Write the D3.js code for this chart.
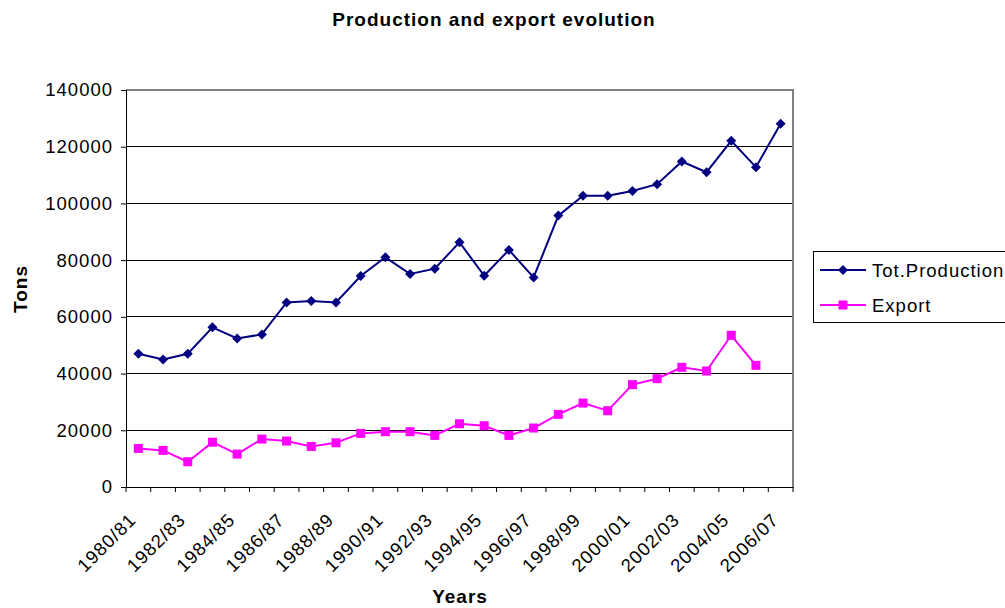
<!DOCTYPE html>
<html>
<head>
<meta charset="utf-8">
<script src="https://cdn.jsdelivr.net/npm/d3@7"></script>
<style>
  body { margin: 0; background: #fff; }
  text { font-family: "Liberation Sans", Arial, sans-serif; fill: #000; letter-spacing: 1px; }
</style>
</head>
<body>
<svg></svg>
<script>
const years = ['1980/81','1981/82','1982/83','1983/84','1984/85','1985/86','1986/87','1987/88','1988/89',
  '1989/90','1990/91','1991/92','1992/93','1993/94','1994/95','1995/96','1996/97','1997/98','1998/99',
  '1999/00','2000/01','2001/02','2002/03','2003/04','2004/05','2005/06','2006/07'];

const production = [47000, 45000, 47000, 56300, 52400, 53800, 65100, 65600, 65100, 74400, 81000, 75100,
  77000, 86300, 74500, 83600, 73900, 95700, 102700, 102700, 104400, 106800, 114800, 111000, 122100,
  112800, 128100];

const exports = [13600, 12900, 8900, 15800, 11600, 16900, 16200, 14300, 15600, 18900, 19500, 19500,
  18200, 22300, 21600, 18200, 20800, 25600, 29600, 26900, 36100, 38200, 42200, 40900, 53500, 42900];

const yTicks = [0, 20000, 40000, 60000, 80000, 100000, 120000, 140000];

const width = 1005;
const height = 608;
const plotLeft = 126, plotRight = 793, plotTop = 90, plotBottom = 487;

const svg = d3.select('svg')
  .attr('width', width)
  .attr('height', height);

const x = d3.scaleBand().domain(years).range([plotLeft, plotRight]).padding(0);
const y = d3.scaleLinear().domain([0, 140000]).range([plotBottom, plotTop]);
const cx = d => x(d) + x.bandwidth() / 2;

// title
svg.append('text')
  .attr('x', 494).attr('y', 26)
  .attr('text-anchor', 'middle')
  .style('font-weight', 'bold').style('font-size', '19px')
  .text('Production and export evolution');

// gridlines
svg.append('g')
  .selectAll('line')
  .data(yTicks.slice(1, -1))
  .enter().append('line')
    .attr('x1', plotLeft).attr('x2', plotRight)
    .attr('y1', d => y(d)).attr('y2', d => y(d))
    .attr('stroke', '#000').attr('stroke-width', 1)
    .attr('shape-rendering', 'crispEdges');

// plot border (top/right gray)
svg.append('path')
  .attr('d', `M${plotLeft},${plotTop}H${plotRight}V${plotBottom}`)
  .attr('fill', 'none').attr('stroke', '#808080').attr('stroke-width', 2)
  .attr('shape-rendering', 'crispEdges');

// y axis
const yAxis = svg.append('g')
  .attr('transform', `translate(${plotLeft},0)`)
  .call(d3.axisLeft(y).tickValues(yTicks).tickSize(5).tickPadding(8).tickFormat(d3.format('d')));
yAxis.select('.domain').attr('stroke', '#000');
yAxis.selectAll('text').style('font-size', '18.5px').attr('font-family', null);

// x axis
const xAxis = svg.append('g')
  .attr('transform', `translate(0,${plotBottom})`)
  .call(d3.axisBottom(x).tickSize(0).tickFormat(''));
xAxis.select('.domain').attr('stroke', '#000');
xAxis.selectAll('.tick').remove();

const bounds = years.map(d => x(d)).concat([plotRight]);
svg.append('g')
  .selectAll('line')
  .data(bounds)
  .enter().append('line')
    .attr('x1', d => d).attr('x2', d => d)
    .attr('y1', plotBottom).attr('y2', plotBottom + 5)
    .attr('stroke', '#000');

svg.append('g')
  .selectAll('text')
  .data(years.filter((d, i) => i % 2 === 0))
  .enter().append('text')
    .attr('text-anchor', 'end')
    .attr('transform', d => `translate(${cx(d) - 1},521) rotate(-45)`)
    .style('font-size', '18.5px')
    .text(d => d);

// axis titles
svg.append('text')
  .attr('x', 460).attr('y', 603)
  .attr('text-anchor', 'middle')
  .style('font-weight', 'bold').style('font-size', '19px')
  .text('Years');

svg.append('text')
  .attr('transform', 'translate(27,289) rotate(-90)')
  .attr('text-anchor', 'middle')
  .style('font-weight', 'bold').style('font-size', '19px')
  .text('Tons');

// lines
const line = d3.line()
  .x((d, i) => cx(years[i]))
  .y(d => y(d));

svg.append('path')
  .datum(production)
  .attr('d', line)
  .attr('fill', 'none').attr('stroke', '#000080').attr('stroke-width', 2);

svg.append('path')
  .datum(exports)
  .attr('d', line)
  .attr('fill', 'none').attr('stroke', '#ff00ff').attr('stroke-width', 2);

const diamond = d3.symbol().type(d3.symbolSquare).size(50);

svg.append('g')
  .selectAll('path')
  .data(production)
  .enter().append('path')
    .attr('d', diamond)
    .attr('transform', (d, i) => `translate(${cx(years[i])},${y(d)}) rotate(45)`)
    .attr('fill', '#000080');

svg.append('g')
  .selectAll('rect')
  .data(exports)
  .enter().append('rect')
    .attr('x', (d, i) => cx(years[i]) - 4.5)
    .attr('y', d => y(d) - 4.5)
    .attr('width', 9).attr('height', 9)
    .attr('fill', '#ff00ff');

// legend
const legend = svg.append('g');
legend.append('rect')
  .attr('x', 813.5).attr('y', 251.5)
  .attr('width', 200).attr('height', 71)
  .attr('fill', '#fff').attr('stroke', '#000').attr('stroke-width', 1);

const series = [
  { name: 'Tot.Production', color: '#000080', shape: 'diamond', y: 270 },
  { name: 'Export', color: '#ff00ff', shape: 'square', y: 305 }
];

series.forEach(s => {
  legend.append('line')
    .attr('x1', 820).attr('x2', 866)
    .attr('y1', s.y).attr('y2', s.y)
    .attr('stroke', s.color).attr('stroke-width', 2);
  if (s.shape === 'diamond') {
    legend.append('path')
      .attr('d', diamond)
      .attr('transform', `translate(843,${s.y}) rotate(45)`)
      .attr('fill', s.color);
  } else {
    legend.append('rect')
      .attr('x', 838.5).attr('y', s.y - 4.5)
      .attr('width', 9).attr('height', 9)
      .attr('fill', s.color);
  }
  legend.append('text')
    .attr('x', 872).attr('y', s.y + 7)
    .style('font-size', '18.5px')
    .text(s.name);
});
</script>
</body>
</html>
